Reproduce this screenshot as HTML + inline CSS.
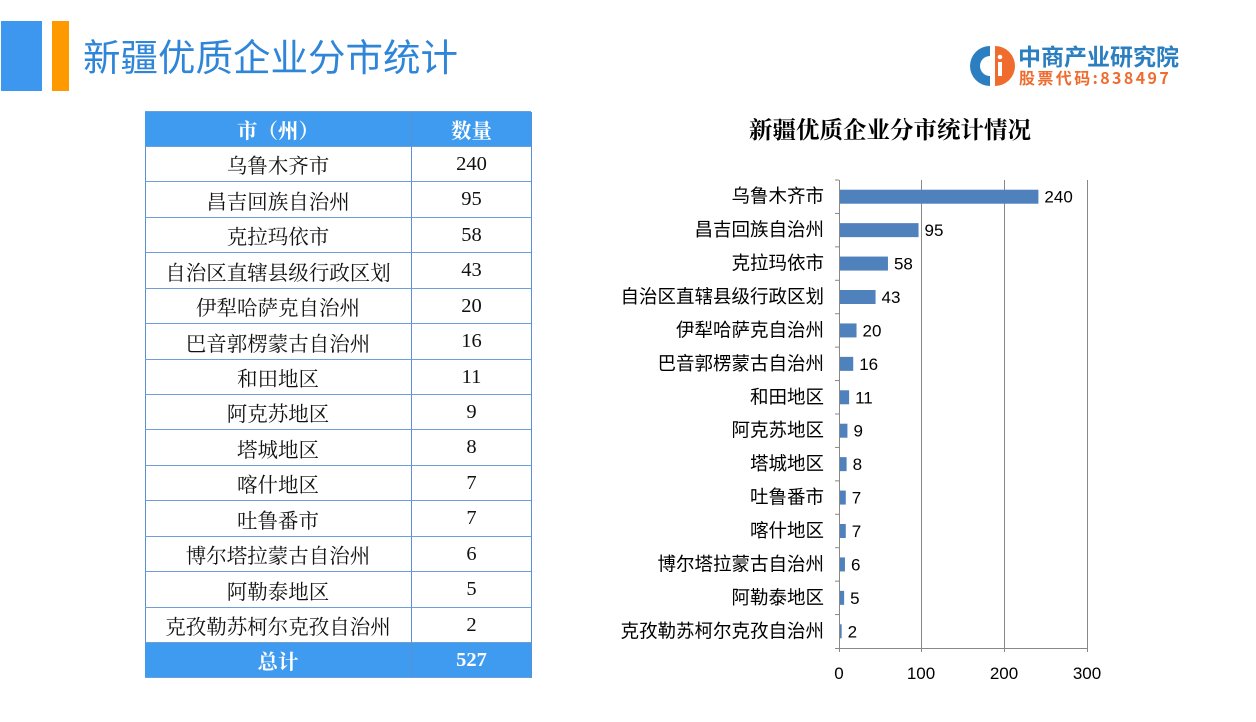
<!DOCTYPE html>
<html><head><meta charset="utf-8"><style>
body{margin:0;width:1256px;height:722px;background:#fff;position:relative;overflow:hidden;font-family:"Liberation Sans","Noto Sans CJK SC",sans-serif}
.a{position:absolute}
.cell{position:absolute;display:flex;align-items:center;justify-content:center;font-family:"Liberation Serif","Noto Serif CJK SC","Noto Sans CJK SC",serif;font-size:20.5px;color:#111;box-sizing:border-box}
.h{font-weight:bold}
</style></head><body>
<div class="a" style="left:1px;top:21px;width:41px;height:70px;background:#3d97ee"></div>
<div class="a" style="left:52px;top:21px;width:17px;height:70px;background:#ff9900"></div>
<div class="a" style="left:83px;top:30px;font-size:37.5px;color:#2f86d8;font-family:'Noto Sans CJK SC',sans-serif;line-height:50px">新疆优质企业分市统计</div>
<svg class="a" style="left:968px;top:42px" width="48" height="48" viewBox="0 0 48 48">
<path d="M22 4 A20 20 0 1 0 22 44 L22 34 A10 10 0 1 1 22 14 Z" fill="#2b7fc0"/>
<path d="M27 4 A20 20 0 0 1 27 44 Z" fill="#ef6b2e"/>
<rect x="30" y="20" width="4" height="14" fill="#fff"/><circle cx="32" cy="15" r="2.3" fill="#fff"/>
</svg>
<div class="a" style="left:1018px;top:41px;font-size:23px;color:#2b7fc0;font-family:'Noto Sans CJK SC',sans-serif;line-height:28px;font-weight:bold">中商产业研究院</div>
<div class="a" style="left:1019px;top:67px;font-size:16px;color:#ef6b2e;font-family:'Noto Sans CJK SC',sans-serif;line-height:20px;letter-spacing:2.4px;font-weight:bold">股票代码:838497</div>

<div class="a" style="left:145px;top:112px;width:385px;height:566px;border-left:1px solid #5b8fd0;border-right:1px solid #5b8fd0"></div>
<div id="t"></div>

<svg class="a" style="left:0;top:0" width="1256" height="722">
<text x="890" y="138" text-anchor="middle" font-family="Noto Serif CJK SC,serif" font-weight="bold" font-size="23.5" fill="#000">新疆优质企业分市统计情况</text>
<g stroke="#888" stroke-width="1">
<line x1="921.5" y1="180" x2="921.5" y2="652"/><line x1="1004.5" y1="180" x2="1004.5" y2="652"/><line x1="1087.5" y1="180" x2="1087.5" y2="652"/>
<line x1="839.5" y1="180" x2="839.5" y2="652"/><line x1="835" y1="648.5" x2="1088" y2="648.5"/>
<g id="ticks"></g>
</g>
<g id="bars"></g>
<g font-family="Liberation Sans,sans-serif" font-size="17" fill="#000" text-anchor="middle">
<text x="839" y="679">0</text><text x="921" y="679">100</text><text x="1004" y="679">200</text><text x="1087" y="679">300</text>
</g>
</svg>
<script>
var d=[["乌鲁木齐市",240],["昌吉回族自治州",95],["克拉玛依市",58],["自治区直辖县级行政区划",43],["伊犁哈萨克自治州",20],["巴音郭楞蒙古自治州",16],["和田地区",11],["阿克苏地区",9],["塔城地区",8],["喀什地区",7],["吐鲁番市",7],["博尔塔拉蒙古自治州",6],["阿勒泰地区",5],["克孜勒苏柯尔克孜自治州",2]];
var t='';
function row(y,h,a,b,hdr){var bg=hdr?'background:#3f9bef;color:#fff;font-weight:bold;':'';t+='<div class="cell" style="left:145px;top:'+y+'px;width:266px;height:'+h+'px;'+bg+'border-bottom:1px solid #6e9fd6">'+a+'</div><div class="cell" style="left:411px;top:'+y+'px;width:120px;height:'+h+'px;'+bg+'border-left:1px solid #5b8fd0;border-bottom:1px solid #6e9fd6">'+b+'</div>';}
t+='<div class="a" style="left:145px;top:111px;width:386px;height:1px;background:#6e9fd6"></div>';
row(112,35,'市（州）','数量',1);
for(var i=0;i<14;i++){row(Math.round(147+i*35.43),Math.round(147+(i+1)*35.43)-Math.round(147+i*35.43),d[i][0],d[i][1]);}
row(643,35,'总计','527',1);
document.getElementById('t').innerHTML=t;
var tb=[[2,'乌鲁木齐市',240],[1,'昌吉回族自治州',95],[2,'克拉玛依市',58],[2,'自治区直辖县级行政区划',43],[2,'伊犁哈萨克自治州',20],[2,'巴音郭楞蒙古自治州',16],[2,'和田地区',11],[2,'阿克苏地区',9],[2,'塔城地区',8],[2,'吐鲁番市',7],[2,'喀什地区',7],[2,'博尔塔拉蒙古自治州',6],[2,'阿勒泰地区',5],[2,'克孜勒苏柯尔克孜自治州',2]];
var s='',k='',step=(648-180)/14;
for(var i=0;i<14;i++){var c=180+step*(i+0.5),w=tb[i][2]*0.8267;
s+='<rect x="840" y="'+(c-7)+'" width="'+w+'" height="14" fill="#4f81bd"/>';
s+='<text x="'+(846+w)+'" y="'+(c+6)+'" font-family="Liberation Sans,sans-serif" font-size="17">'+tb[i][2]+'</text>';
s+='<text x="824" y="'+(c+6)+'" text-anchor="end" font-family="Noto Sans CJK SC,sans-serif" font-size="18.5">'+tb[i][1]+'</text>';
k+='<line x1="835" y1="'+(180+step*i)+'" x2="839" y2="'+(180+step*i)+'"/>';}
document.getElementById('bars').innerHTML=s;document.getElementById('ticks').innerHTML=k;
</script>
</body></html>
